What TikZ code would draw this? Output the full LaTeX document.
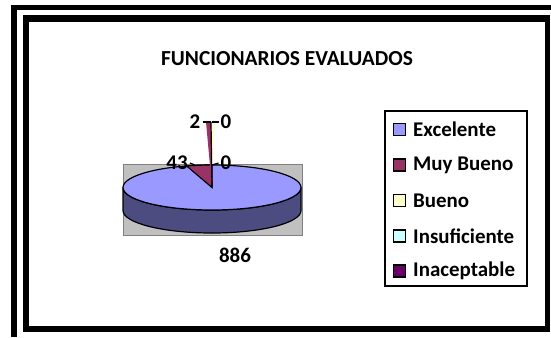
\documentclass[tikz,border=0pt]{standalone}
\usepackage{fontspec}
\setmainfont{Carlito}
\definecolor{excel}{HTML}{9999FF}
\definecolor{exside}{HTML}{4C4C80}
\definecolor{muyb}{HTML}{993366}
\definecolor{bueno}{HTML}{FFFFCC}
\definecolor{insuf}{HTML}{CCFFFF}
\definecolor{inac}{HTML}{660066}
\definecolor{plotgray}{HTML}{C0C0C0}
\begin{document}
\begin{tikzpicture}[x=1bp,y=-1bp,
  lbl/.style={font=\bfseries\fontsize{21}{21}\selectfont, inner sep=2bp},
  legtxt/.style={font=\bfseries\fontsize{21}{21}\selectfont, inner sep=0pt, anchor=west},
  sq/.style={draw=black, line width=1.5bp, minimum size=12bp, inner sep=0pt},
  framebar/.style={fill=black},
  pieline/.style={draw=black, line width=1.2bp}]
\useasboundingbox (0,0) rectangle (551,337);
\fill[white] (0,0) rectangle (551,337);
% frames
\fill[framebar] (11,5) rectangle (551,10);
\fill[framebar] (11,5) rectangle (17,337);
\fill[framebar] (23,15) rectangle (550,22);
\fill[framebar] (23,15) rectangle (29,332);
\fill[framebar] (545,15) rectangle (550,332);
\fill[framebar] (23,326) rectangle (550,332);
% title
\node[font=\bfseries\fontsize{21.5}{21.5}\selectfont, inner sep=0pt] (title) at (287,59) {FUNCIONARIOS EVALUADOS};
% plot area
\draw[draw=gray, fill=plotgray] (123,164) rectangle (302,235);
% pie
\coordinate (c) at (212,187.5);
\path[pieline, fill=exside] (123,187.5) -- (123,210.5)
  arc[start angle=180, end angle=0, x radius=89, y radius=22.5]
  -- (301,187.5)
  arc[start angle=0, end angle=180, x radius=89, y radius=22.5] -- cycle;
\path[pieline, fill=excel] (c) ellipse[x radius=89, y radius=22.5];
\path[pieline, fill=muyb] (c) -- ++(-106.6:89 and 22.5)
  arc[start angle=-106.6, end angle=-90, x radius=89, y radius=22.5] -- cycle;
% thin slices
\coordinate (spk) at (211,122);
\fill[muyb] (206,122) -- (spk) -- (c) -- cycle;
\fill[bueno] (212,122) -- (215,122) -- (212,165) -- cycle;
\draw[line width=1.2bp] (spk) -- (c);
% data labels
\node[lbl] (l2) at (195,122) {2};
\node[lbl] (l0a) at (226,122) {0};
\node[lbl] (l43) at (177,163) {43};
\node[lbl] (l0b) at (226,163) {0};
\node[lbl] (l886) at (235,255) {886};
\coordinate (p43) at (195,165);
\coordinate (pc) at (212,165);
\draw[line width=1.2bp] (l2.east) -- (spk);
\draw[line width=1.2bp] (spk -| 212,0) -- (l0a.west);
\draw[line width=1.2bp] (l43.east) -- (p43);
\draw[line width=1.2bp] (pc) -- (l0b.west);
% legend
\draw[line width=1.5bp, fill=white] (385,111) rectangle (527,286);
\node[sq, fill=excel] (s1) at (399.5,129.5) {};
\node[legtxt] (t1) at (413,129.5) {Excelente};
\node[sq, fill=muyb] (s2) at (399.5,165) {};
\node[legtxt] (t2) at (413,165) {Muy Bueno};
\node[sq, fill=bueno] (s3) at (399.5,200.5) {};
\node[legtxt] (t3) at (413,200.5) {Bueno};
\node[sq, fill=insuf] (s4) at (399.5,236) {};
\node[legtxt] (t4) at (413,236) {Insuficiente};
\node[sq, fill=inac] (s5) at (399.5,271) {};
\node[legtxt] (t5) at (413,271) {Inaceptable};
\end{tikzpicture}
\end{document}
